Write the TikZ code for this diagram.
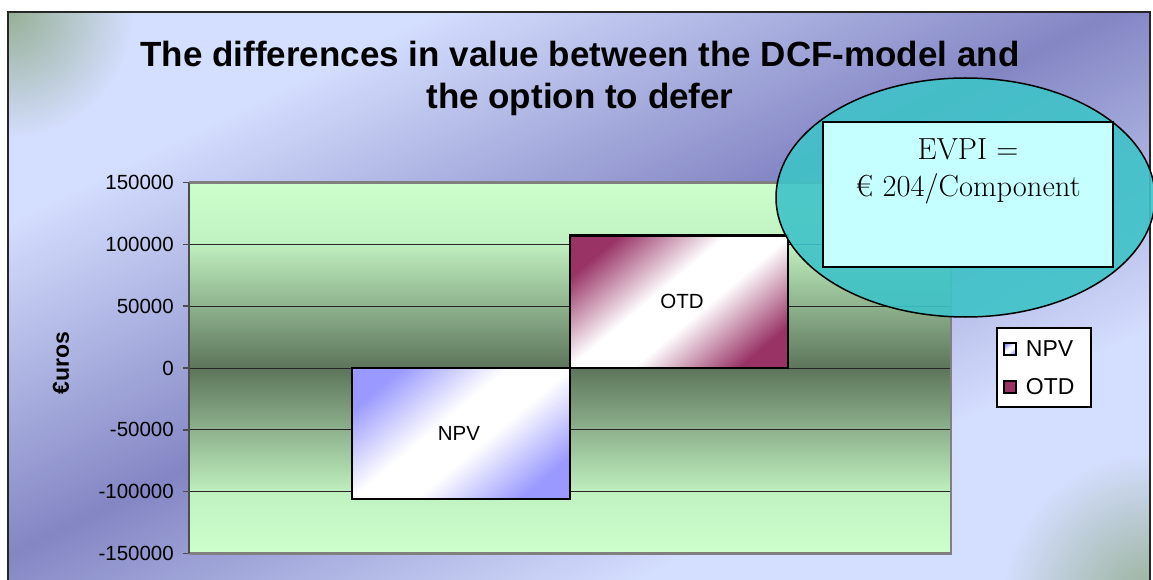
\documentclass[tikz,border=0pt]{standalone}
\usepackage{fontspec}
\setsansfont{Liberation Sans}
\usetikzlibrary{shapes.geometric,fadings,positioning}

\definecolor{bglight}{HTML}{D4DEFE}
\definecolor{bgdark}{HTML}{8486C4}
\definecolor{cornergreen}{HTML}{8CA884}
\definecolor{plotlight}{HTML}{CCFFCC}
\definecolor{plotdark}{HTML}{5D755B}
\definecolor{npvblue}{HTML}{9999FF}
\definecolor{otdred}{HTML}{993366}
\definecolor{evpiteal}{HTML}{3FC3C8}
\definecolor{evpicyan}{HTML}{C6FFFF}

\pgfdeclareverticalshading{plotshade}{100bp}{color(0bp)=(plotlight); color(25bp)=(plotlight); color(33bp)=(plotlight!90!plotdark); color(50bp)=(plotdark); color(67bp)=(plotlight!90!plotdark); color(75bp)=(plotlight); color(100bp)=(plotlight)}
\pgfdeclareverticalshading{npvshade}{100bp}{color(0bp)=(npvblue); color(24bp)=(npvblue); color(44bp)=(white); color(56bp)=(white); color(76bp)=(npvblue); color(100bp)=(npvblue)}
\pgfdeclareverticalshading{otdshade}{100bp}{color(0bp)=(otdred); color(24bp)=(otdred); color(44bp)=(white); color(56bp)=(white); color(76bp)=(otdred); color(100bp)=(otdred)}
\tikzfading[name=cornerfade, inner color=transparent!15, outer color=transparent!100]

\begin{document}
\begin{tikzpicture}[x=1pt, y=1pt,
  titletext/.style={font=\sffamily\bfseries\fontsize{35}{42}\selectfont},
  ticklabel/.style={font=\sffamily\fontsize{20.5}{24}\selectfont, inner sep=0},
  barlabel/.style={font=\sffamily\fontsize{20.5}{24}\selectfont},
  legtext/.style={font=\sffamily\fontsize{23}{27}\selectfont, inner sep=0},
  legkey/.style={draw=black, line width=1.5pt, minimum size=12, inner sep=0},
  evpitext/.style={font=\fontsize{30.5}{36}\selectfont},
  gridline/.style={black!85, line width=1pt},
  frameline/.style={black!50, line width=2.5pt},
  axisline/.style={black!70, line width=1.5pt},
  bar/.style={draw=black, line width=2.5pt}]
\useasboundingbox (0,0) rectangle (1153,579);

\begin{scope}
  \clip (8,-10) rectangle (1150,567);
  \fill[bglight] (8,-10) rectangle (1150,567);
  \begin{scope}[transform canvas={rotate around={26.1:(480,255)}}]
    \shade[top color=bglight, bottom color=bglight, middle color=bgdark] (-400,-45) rectangle (1400,555);
  \end{scope}
  \fill[cornergreen, path fading=cornerfade] (8,567) circle (125);
  \fill[cornergreen, path fading=cornerfade] (1153,-25) circle (150);
\end{scope}
\draw[black!85, line width=1.5pt] (8,-10) rectangle (1150,567);

\node[titletext, anchor=base] (title1) at (580,512) {The differences in value between the DCF-model and};
\node[titletext, anchor=base] (title2) at ([yshift=-42pt]title1.base) {the option to defer};

\node[font=\sffamily\bfseries\fontsize{23}{27}\selectfont, rotate=90] (ylabel) at (61,216) {€uros};

\begin{scope}[shift={(189,211)}, y=1.236pt]
  \shade[shading=plotshade] (0,-150) rectangle (762,150);
  \foreach \v in {-100,-50,0,50,100}
    \draw[gridline] (0,\v) -- (762,\v);
  \draw[frameline] (0,150) -- (762,150) -- (762,-150) -- (0,-150);
  \draw[axisline] (0,-150) -- (0,150);
  \foreach \v/\t [count=\i] in {150/150000, 100/100000, 50/50000, 0/0, -50/-50000, -100/-100000, -150/-150000} {
    \draw[axisline] (-6,\v) -- (0,\v);
    \node[ticklabel, anchor=east] (tick\i) at (-15,\v) {\t};
  }

  \shadedraw[bar, shading=npvshade, shading angle=40] (163,0) rectangle (381,-106);
  \node[barlabel] (npv) at (270,-53) {NPV};
  \shadedraw[bar, shading=otdshade, shading angle=40] (381,0) rectangle (599,107);
  \node[barlabel] (otd) at (493,53.5) {OTD};
\end{scope}

\node[draw=black, line width=1.2pt, fill=white, minimum width=94, minimum height=79, inner sep=0] (legend) at (1044,211.5) {};
\node[legkey, shade, shading=npvshade, shading angle=40] (keynpv) at (1010,230) {};
\node[legtext, anchor=west] (legnpv) at ([xshift=9pt]keynpv.east) {NPV};
\node[legkey, fill=otdred] (keyotd) at (1010,192) {};
\node[legtext, anchor=west] (legotd) at ([xshift=9pt]keyotd.east) {OTD};

\node[ellipse, draw=black, line width=1.5pt, fill=evpiteal, fill opacity=0.9, minimum width=379, minimum height=239, inner sep=0] (evpiglow) at (965.5,381.5) {};
\node[draw=black, line width=2pt, fill=evpicyan, minimum width=290, minimum height=145, inner sep=0] (evpibox) at (968,384.5) {};
\node[evpitext, anchor=base] (evpi1) at (968,419) {EVPI =};
\node[evpitext, anchor=base] (evpi2) at ([yshift=-37pt]evpi1.base) {€ 204/Component};
\end{tikzpicture}
\end{document}
